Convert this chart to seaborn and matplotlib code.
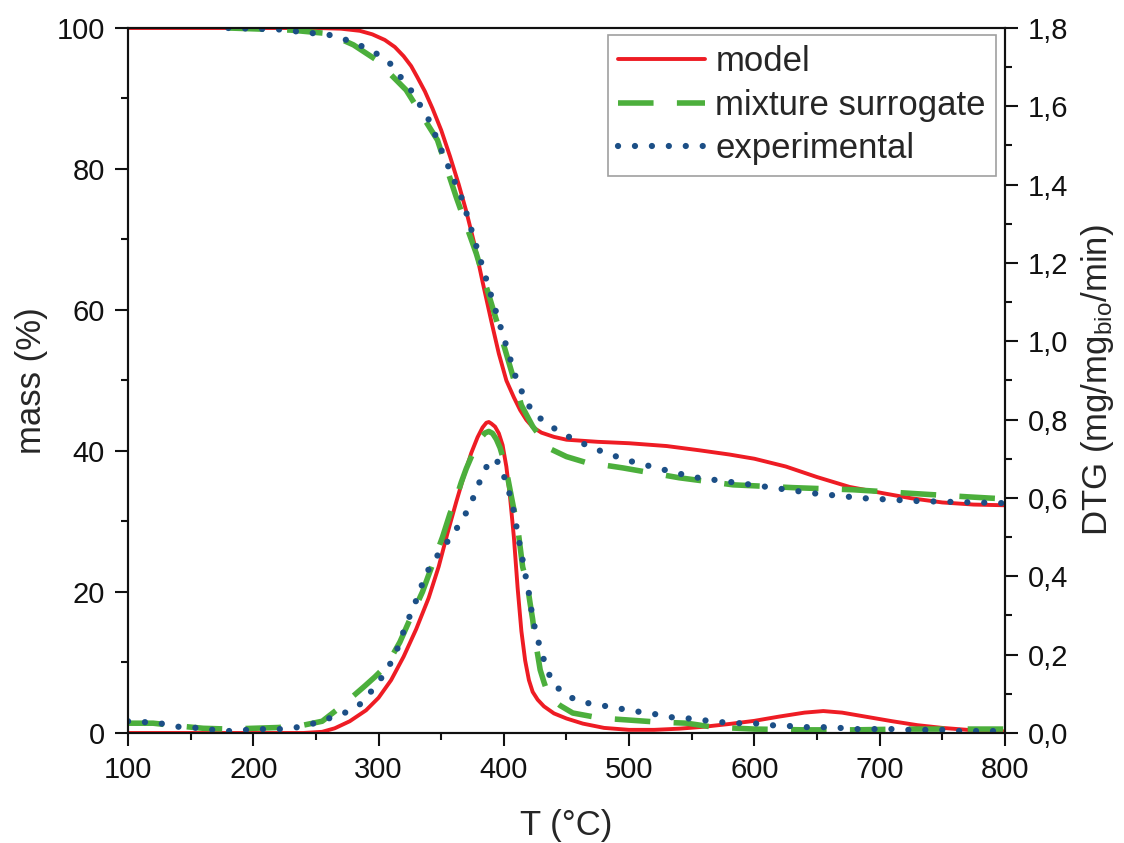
import numpy as np
import pandas as pd
import matplotlib
matplotlib.use("Agg")
import matplotlib.pyplot as plt
import matplotlib.ticker as mticker
import seaborn as sns

# TGA / DTG curves
# mass (%) curves
t_model_mass = [100, 250, 270, 285, 295, 305, 313, 320, 326, 331, 337, 343, 350, 357, 364, 370, 377, 383,
                390, 396, 402, 408, 413, 418, 423, 430, 440, 450, 475, 500, 530, 556, 580, 600, 625, 650,
                676, 703, 725, 750, 775, 800]
model_mass = [100, 100, 99.9, 99.6, 99.1, 98.3, 97.3, 96.0, 94.6, 93.0, 91.0, 88.6, 85.5, 81.8, 77.8, 74.0, 69.0, 64.0,
              58.4, 53.8, 50.0, 47.6, 45.8, 44.4, 43.4, 42.6, 42.0, 41.6, 41.3, 41.1, 40.7, 40.1, 39.5, 38.9, 37.8, 36.3,
              34.9, 34.0, 33.3, 32.7, 32.4, 32.3]

t_mix_mass = [180, 230, 260, 280, 298, 322, 347, 362, 378, 395, 414, 423, 430, 437, 450, 465, 480, 495,
              540, 583, 631, 679, 724, 770, 800]
mix_mass = [100, 99.7, 99.2, 97.6, 95.5, 91.2, 84.1, 76.0, 68.0, 58.0, 46.5, 43.5, 41.8, 40.3, 39.2, 38.4, 38.0, 37.6,
            36.2, 35.2, 34.8, 34.5, 34.0, 33.5, 33.2]

t_exp_mass = [180, 220, 261, 280, 298, 309, 327, 341, 351, 367, 383, 397, 411, 423, 445, 471,
              498, 522, 551, 594, 647, 687, 730, 800]
exp_mass = [100, 99.8, 99.0, 98.0, 96.4, 95.0, 90.9, 86.7, 82.3, 75.6, 66.1, 57.8, 49.6, 45.4, 42.6, 40.4,
            38.7, 37.6, 36.3, 35.3, 34.0, 33.3, 32.9, 32.6]

# DTG (mg/mg_bio/min) curves
t_model_dtg = [100, 240, 255, 265, 277, 290, 300, 310, 320, 330, 340, 348, 355, 362, 368, 374, 379, 383,
               386, 388, 390, 393, 396, 399, 402, 405, 408, 411, 414, 417, 420, 423, 427, 432, 440, 450,
               463, 480, 500, 520, 540, 560, 580, 600, 620, 640, 655, 670, 690, 710, 730, 750, 770, 800]
model_dtg = [0, 0, 0.003, 0.012, 0.03, 0.058, 0.09, 0.135, 0.195, 0.265, 0.345, 0.425, 0.51, 0.59, 0.655, 0.715, 0.755, 0.78,
             0.792, 0.794, 0.79, 0.782, 0.765, 0.735, 0.68, 0.60, 0.50, 0.37, 0.26, 0.185, 0.135, 0.105, 0.085, 0.068, 0.05, 0.037,
             0.024, 0.013, 0.008, 0.008, 0.011, 0.016, 0.023, 0.031, 0.042, 0.052, 0.056, 0.052, 0.041, 0.03, 0.02, 0.013, 0.008, 0.004]

t_mix_dtg = [100, 120, 140, 160, 180, 200, 220, 240, 255, 271, 280, 289, 297, 304, 311, 317, 325, 335, 343,
             351, 357, 362, 366, 370, 374, 378, 382, 385, 388, 391, 394, 397, 400, 402, 405, 407, 409,
             411, 413, 415, 417, 419, 421, 423, 425, 427, 429, 432, 435, 440, 445, 455, 477, 500, 522,
             546, 567, 600, 640, 680, 720, 760, 800]
mix_dtg = [0.025, 0.025, 0.018, 0.012, 0.01, 0.012, 0.014, 0.02, 0.03, 0.07, 0.095, 0.12, 0.143, 0.165, 0.198, 0.232, 0.29, 0.36, 0.43,
           0.50, 0.56, 0.60, 0.64, 0.675, 0.705, 0.735, 0.755, 0.766, 0.77, 0.765, 0.75, 0.728, 0.695, 0.67, 0.62, 0.587, 0.555,
           0.526, 0.475, 0.424, 0.40, 0.373, 0.33, 0.29, 0.237, 0.20, 0.161, 0.13, 0.102, 0.083, 0.07, 0.051, 0.038, 0.033, 0.028,
           0.025, 0.015, 0.01, 0.008, 0.008, 0.01, 0.01, 0.01]

t_exp_dtg = [100, 112, 125, 140, 155, 168, 181, 195, 209, 223, 236, 249, 261, 275, 287, 295, 304, 311,
             317, 321, 327, 332, 337, 342, 350, 359, 366, 373, 378, 383, 389, 393, 397, 402, 406, 409,
             411, 414, 416, 419, 421, 423, 426, 430, 434, 439, 449, 462, 477, 490, 503, 517, 530, 545,
             558, 572, 586, 599, 612, 627, 640, 654, 668, 681, 695, 710, 722, 737, 750, 764, 778, 791, 800]
exp_dtg = [0.03, 0.028, 0.025, 0.016, 0.013, 0.008, 0.005, 0.008, 0.01, 0.01, 0.015, 0.025, 0.038, 0.054, 0.077, 0.11, 0.148, 0.186,
           0.23, 0.27, 0.314, 0.355, 0.40, 0.43, 0.467, 0.506, 0.54, 0.58, 0.62, 0.66, 0.697, 0.70, 0.684, 0.638, 0.595, 0.55,
           0.506, 0.462, 0.42, 0.378, 0.334, 0.294, 0.25, 0.207, 0.166, 0.128, 0.097, 0.079, 0.071, 0.064, 0.056, 0.051, 0.041, 0.038,
           0.033, 0.028, 0.025, 0.025, 0.02, 0.018, 0.015, 0.015, 0.013, 0.01, 0.01, 0.01, 0.008, 0.008, 0.008, 0.005, 0.005, 0.005, 0.005]

labels = ["model", "mixture surrogate", "experimental"]
RED = "#ee1c24"
GREEN = "#4caf3c"
BLUE = "#1c4f86"

sns.set_style("ticks")
plt.rcParams['font.family'] = ['Liberation Sans', 'DejaVu Sans']
plt.rcParams['mathtext.fontset'] = 'custom'
plt.rcParams['mathtext.rm'] = 'Liberation Sans'
plt.rcParams['mathtext.it'] = 'Liberation Sans'

fig = plt.figure(figsize=(11.24, 8.43), dpi=100)
ax = fig.add_axes([0.1139, 0.1305, 0.7802, 0.8363])
ax2 = ax.twinx()

red_kw = dict(color=RED, lw=2.8, linestyle="-")
green_kw = dict(color=GREEN, lw=4.0, linestyle=(0, (6.4, 4.2)), dash_capstyle="butt")
blue_kw = dict(color=BLUE, lw=4.5, linestyle=(0, (0.01, 2.7)), dash_capstyle="round")

# mass curves on left axis
sns.lineplot(x=t_model_mass, y=model_mass, ax=ax, **red_kw)
sns.lineplot(x=t_mix_mass, y=mix_mass, ax=ax, **green_kw)
sns.lineplot(x=t_exp_mass, y=exp_mass, ax=ax, **blue_kw)

# DTG curves on right axis
sns.lineplot(x=t_model_dtg, y=model_dtg, ax=ax2, **red_kw)
sns.lineplot(x=t_mix_dtg, y=mix_dtg, ax=ax2, **green_kw)
sns.lineplot(x=t_exp_dtg, y=exp_dtg, ax=ax2, **blue_kw)

ax.set_xlim(100, 800)
ax.set_ylim(0, 100)
ax2.set_ylim(0, 1.8)

ax.xaxis.set_major_locator(mticker.MultipleLocator(100))
ax.xaxis.set_minor_locator(mticker.MultipleLocator(50))
ax.yaxis.set_major_locator(mticker.MultipleLocator(20))
ax.yaxis.set_minor_locator(mticker.MultipleLocator(10))
ax2.yaxis.set_major_locator(mticker.MultipleLocator(0.2))
ax2.yaxis.set_minor_locator(mticker.MultipleLocator(0.1))
ax2.yaxis.set_major_formatter(mticker.FuncFormatter(lambda v, p: f"{v:.1f}".replace(".", ",")))

for a in (ax, ax2):
    for s in a.spines.values():
        s.set_linewidth(1.5)
        s.set_visible(True)
        s.set_color("#111111")
    a.tick_params(which="major", direction="out", length=9.5, width=1.5, labelsize=21, colors="#111111", pad=7)
    a.tick_params(which="minor", direction="out", length=5, width=1.5, colors="#111111")
ax.tick_params(top=False, right=False, which="both")
ax2.tick_params(top=False, left=False, which="both")

ax.set_xlabel("T (°C)", fontsize=25, labelpad=18)
ax.set_ylabel("mass (%)", fontsize=25, labelpad=6)
ax2.set_ylabel(r"DTG (mg/mg$_{\mathrm{bio}}$/min)", fontsize=25, labelpad=8)

handles = [
    plt.Line2D([], [], **red_kw),
    plt.Line2D([], [], **green_kw),
    plt.Line2D([], [], **blue_kw),
]
leg = ax2.legend(handles, labels, loc="upper right", bbox_to_anchor=(0.99, 0.99), borderaxespad=0,
                 fontsize=25, frameon=True, fancybox=False, handlelength=2.5, handletextpad=0.3,
                 borderpad=0.3, labelspacing=0.3)
leg.get_frame().set_edgecolor("#888888")
leg.get_frame().set_linewidth(1.2)

fig.savefig("out.png", dpi=100)
